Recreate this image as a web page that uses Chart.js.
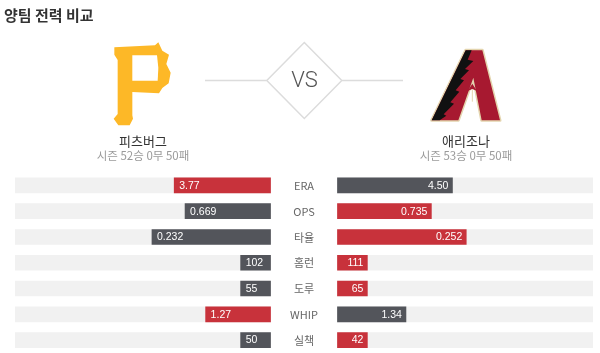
<!DOCTYPE html>
<html>
<head>
<meta charset="utf-8">
<script src="https://cdn.jsdelivr.net/npm/chart.js@4"></script>
<style>
  html, body { margin: 0; padding: 0; background: #fff; }
  #cv { display: block; }
</style>
</head>
<body>
<canvas id="cv" width="600" height="353"></canvas>
<script>
// Stat rows (top to bottom)
const statLabels = ['ERA', 'OPS', '타율', '홈런', '도루', 'WHIP', '실책'];
// Pittsburgh (left) and Arizona (right) season values
const leftVals  = [3.77, 0.669, 0.232, 102, 55, 1.27, 50];
const rightVals = [4.50, 0.735, 0.252, 111, 65, 1.34, 42];
const decimals  = [2, 3, 3, 0, 0, 2, 0];
// full-track value for each row, and whether a lower number wins
const rowMax      = [10, 2, 0.5, 1000, 1000, 5, 1000];
const lowerBetter = [true, false, false, false, false, true, true];

const teams   = ['피츠버그', '애리조나'];
const records = ['시즌 52승 0무 50패', '시즌 53승 0무 50패'];

const RED = '#c8323b', DARK = '#53555b', TRACK = '#f1f1f1';
const G = 0.131;        // half the centre gap, in track units
const MIN_SHARE = 0.117; // shortest bar shown

function share(v, i) { return Math.max(v / rowMax[i], MIN_SHARE); }
function leftWins(i) {
  return lowerBetter[i] ? leftVals[i] < rightVals[i] : leftVals[i] > rightVals[i];
}

const leftBars  = leftVals.map((v, i) => [-(G + share(v, i)), -G]);
const rightBars = rightVals.map((v, i) => [G, G + share(v, i)]);
const leftCols  = statLabels.map((_, i) => leftWins(i) ? RED : DARK);
const rightCols = statLabels.map((_, i) => leftWins(i) ? DARK : RED);

const KR = '"Noto Sans CJK KR", "Noto Sans", sans-serif';

// --- logo drawing (decoration only) ---
function poly(ctx, pts, ox, oy, s) {
  ctx.beginPath();
  pts.forEach((p, k) => {
    const x = ox + p[0] * s, y = oy + p[1] * s;
    if (k === 0) ctx.moveTo(x, y); else ctx.lineTo(x, y);
  });
  ctx.closePath();
}

function drawP(ctx) {
  const ox = 105, oy = 38, s = 1 / 3;
  const outer = [
    [28, 28], [150, 22], [160, 13], [172, 38], [192, 50], [184, 78], [197, 104],
    [191, 136], [172, 150], [162, 166], [82, 162], [82, 232], [84, 242], [74, 262],
    [40, 262], [26, 242], [38, 228], [38, 66], [28, 50]
  ];
  const hole = [[82, 52], [156, 52], [160, 90], [158, 128], [82, 128]];
  ctx.save();
  ctx.fillStyle = '#fdb827';
  poly(ctx, outer, ox, oy, s);
  ctx.fill();
  ctx.fillStyle = '#fff';
  poly(ctx, hole, ox, oy, s);
  ctx.fill();
  ctx.restore();
}

function drawA(ctx) {
  const ox = 425, oy = 45, s = 1 / 3;
  const outer = [[122, 16], [172, 16], [225, 226], [170, 226], [145, 98], [100, 226], [20, 226]];
  const black = [
    [122, 16], [140, 16], [128, 44], [145, 48], [120, 72], [132, 76], [106, 102],
    [117, 106], [92, 136], [103, 140], [76, 172], [87, 176], [56, 208], [64, 212], [44, 226], [20, 226]
  ];
  ctx.save();
  ctx.lineJoin = 'round';
  poly(ctx, outer, ox, oy, s);
  ctx.strokeStyle = '#e3d4ad';
  ctx.lineWidth = 3;
  ctx.stroke();
  ctx.fillStyle = '#a71930';
  ctx.fill();
  ctx.fillStyle = '#111';
  poly(ctx, black, ox, oy, s);
  ctx.fill();
  // little arrow inside the counter
  ctx.fillStyle = '#a71930';
  poly(ctx, [[142, 116], [128, 138], [142, 132], [156, 138]], ox, oy, s);
  ctx.fill();
  ctx.strokeStyle = '#e3d4ad';
  ctx.lineWidth = 1;
  ctx.beginPath();
  ctx.moveTo(ox + 142 * s, oy + 132 * s);
  ctx.lineTo(ox + 142 * s, oy + 170 * s);
  ctx.stroke();
  ctx.restore();
}

const headerPlugin = {
  id: 'header',
  afterDraw(chart) {
    const ctx = chart.ctx;
    ctx.save();
    // title
    ctx.fillStyle = '#333';
    ctx.font = 'bold 15px ' + KR;
    ctx.textAlign = 'left';
    ctx.textBaseline = 'middle';
    ctx.fillText('양팀 전력 비교', 4, 15);

    drawP(ctx);
    drawA(ctx);

    // VS diamond and side lines
    ctx.strokeStyle = '#dcdcdc';
    ctx.lineWidth = 1.5;
    ctx.beginPath();
    ctx.moveTo(205, 80.5); ctx.lineTo(267, 80.5);
    ctx.moveTo(342, 80.5); ctx.lineTo(403, 80.5);
    ctx.moveTo(304.3, 42.5); ctx.lineTo(341.8, 80.5);
    ctx.lineTo(304.3, 118.5); ctx.lineTo(266.8, 80.5); ctx.closePath();
    ctx.stroke();
    ctx.fillStyle = '#555';
    ctx.font = '300 22px Roboto, sans-serif';
    ctx.textAlign = 'center';
    ctx.fillText('VS', 304.5, 81);

    // team names and records
    const cx = [143, 466];
    for (let t = 0; t < 2; t++) {
      ctx.fillStyle = '#333';
      ctx.font = '13px ' + KR;
      ctx.fillText(teams[t], cx[t], 141);
      ctx.fillStyle = '#9a9a9a';
      ctx.font = '11.5px ' + KR;
      ctx.fillText(records[t], cx[t], 156);
    }
    ctx.restore();
  },
  afterDatasetsDraw(chart) {
    const ctx = chart.ctx;
    const xs = chart.scales.x, ys = chart.scales.y;
    const mid = xs.getPixelForValue(0);
    ctx.save();
    ctx.textBaseline = 'middle';
    // stat names in the centre column
    ctx.fillStyle = '#666';
    ctx.font = '11px ' + KR;
    ctx.textAlign = 'center';
    statLabels.forEach((lab, i) => ctx.fillText(lab, mid, ys.getPixelForValue(i) + 0.5));
    // values inside the bars
    ctx.fillStyle = '#fff';
    ctx.font = '10.5px "Liberation Sans", sans-serif';
    const lm = chart.getDatasetMeta(0), rm = chart.getDatasetMeta(1);
    lm.data.forEach((el, i) => {
      const p = el.getProps(['x', 'base', 'y'], true);
      ctx.textAlign = 'left';
      ctx.fillText(leftVals[i].toFixed(decimals[i]), Math.min(p.x, p.base) + 5, p.y + 0.5);
    });
    rm.data.forEach((el, i) => {
      const p = el.getProps(['x', 'base', 'y'], true);
      ctx.textAlign = 'right';
      ctx.fillText(rightVals[i].toFixed(decimals[i]), Math.max(p.x, p.base) - 4, p.y + 0.5);
    });
    ctx.restore();
  }
};

const barOpts = { grouped: false, barThickness: 15, borderWidth: 0, borderSkipped: false };

new Chart(document.getElementById('cv').getContext('2d'), {
  type: 'bar',
  data: {
    labels: statLabels,
    datasets: [
      Object.assign({ data: leftBars, backgroundColor: leftCols, order: 1 }, barOpts),
      Object.assign({ data: rightBars, backgroundColor: rightCols, order: 1 }, barOpts),
      Object.assign({ data: statLabels.map(() => [-(G + 1), -G]), backgroundColor: TRACK, order: 2 }, barOpts),
      Object.assign({ data: statLabels.map(() => [G, G + 1]), backgroundColor: TRACK, order: 2 }, barOpts)
    ]
  },
  options: {
    indexAxis: 'y',
    responsive: false,
    animation: false,
    layout: { padding: { left: 15, right: 7, top: 172.5, bottom: 0 } },
    plugins: { legend: { display: false }, tooltip: { enabled: false } },
    scales: {
      x: { type: 'linear', min: -(G + 1), max: G + 1, display: false },
      y: { display: false }
    }
  },
  plugins: [headerPlugin]
});
</script>
</body>
</html>
